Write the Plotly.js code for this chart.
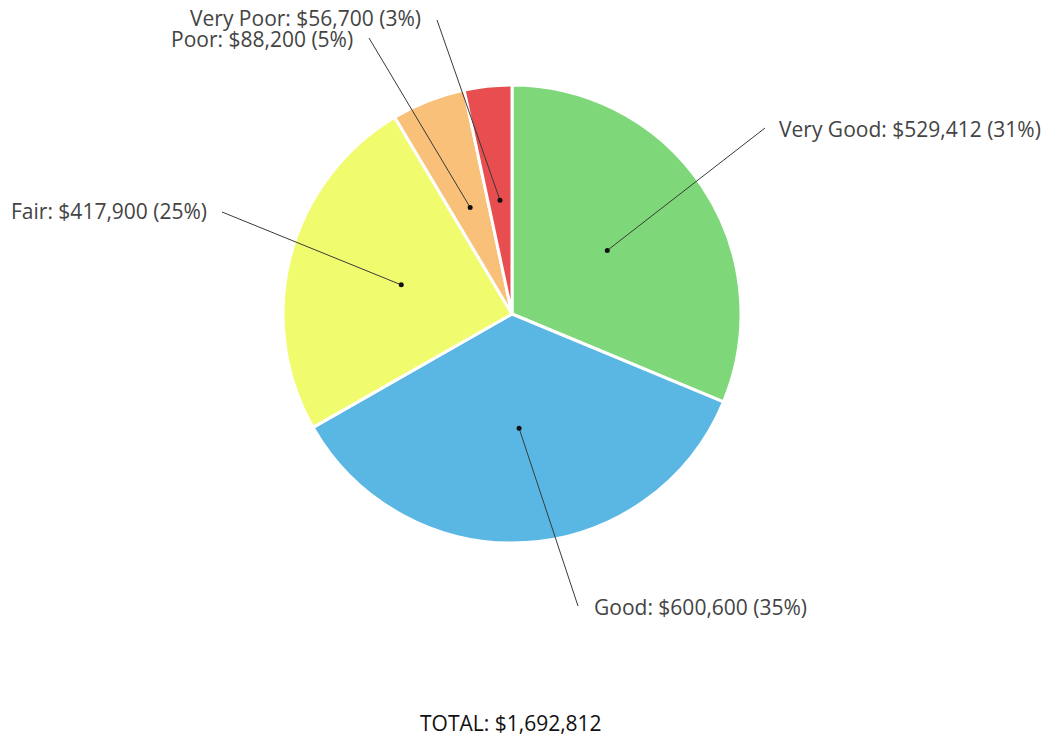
<!DOCTYPE html>
<html>
<head>
<meta charset="utf-8">
<script src="https://cdn.plot.ly/plotly-3.0.1.min.js"></script>
<style>html,body{margin:0;padding:0;background:#fff;}#chart{width:1049px;height:738px;}</style>
</head>
<body>
<div id="chart"></div>
<script>
// ---- data ----
const labels = ['Very Good', 'Good', 'Fair', 'Poor', 'Very Poor'];
const values = [529412, 600600, 417900, 88200, 56700];
const colors = ['#7ed87a', '#5ab7e3', '#f1fb6e', '#f8c078', '#e84d4f'];

// ---- layout geometry (pixels) ----
const W = 1049, H = 738;
const cx = 512, cy = 314, R = 229;
// label text anchor and leader-line start, per slice
const labelLayout = [
  {tx: 777, ty: 129, xa: 'left',   lx: 765, ly: 128},
  {tx: 592, ty: 607, xa: 'left',   lx: 578, ly: 606},
  {tx: 209, ty: 211, xa: 'right',  lx: 222, ly: 212},
  {tx: 262, ty: 39,  xa: 'center', lx: 369, ly: 38},
  {tx: 305, ty: 18,  xa: 'center', lx: 437, ly: 20}
];

const px = x => x / W;
const py = y => 1 - y / H;
const total = values.reduce((a, b) => a + b, 0);
const fmt = v => '$' + v.toLocaleString('en-US');

const annotations = [];
const shapes = [];
let cum = 0;
values.forEach((v, i) => {
  const frac = v / total;
  const mid = (cum + frac / 2) * 2 * Math.PI;
  cum += frac;
  const dx = cx + 0.5 * R * Math.sin(mid);
  const dy = cy - 0.5 * R * Math.cos(mid);
  const L = labelLayout[i];
  annotations.push({
    xref: 'paper', yref: 'paper', x: px(L.tx), y: py(L.ty),
    xanchor: L.xa, yanchor: 'middle', showarrow: false,
    text: labels[i] + ': ' + fmt(v) + ' (' + Math.round(frac * 100) + '%)',
    font: {family: 'Open Sans, sans-serif', size: 21, color: '#444'}
  });
  shapes.push({
    type: 'line', xref: 'paper', yref: 'paper', layer: 'above',
    x0: px(L.lx), y0: py(L.ly), x1: px(dx), y1: py(dy),
    line: {color: '#3a3a3a', width: 1}
  });
  shapes.push({
    type: 'circle', xref: 'paper', yref: 'paper', layer: 'above',
    xsizemode: 'pixel', ysizemode: 'pixel',
    xanchor: px(dx), yanchor: py(dy),
    x0: -2.5, x1: 2.5, y0: -2.5, y1: 2.5,
    fillcolor: '#111', line: {color: '#111', width: 0}
  });
});

annotations.push({
  xref: 'paper', yref: 'paper', x: px(511), y: py(723),
  xanchor: 'center', yanchor: 'middle', showarrow: false,
  text: 'TOTAL: ' + fmt(total),
  font: {family: 'Open Sans, sans-serif', size: 21, color: '#111'}
});

const trace = {
  type: 'pie',
  labels: labels,
  values: values,
  sort: false,
  direction: 'clockwise',
  rotation: 0,
  textinfo: 'none',
  marker: {colors: colors, line: {color: '#ffffff', width: 3}},
  domain: {x: [px(cx - R), px(cx + R)], y: [py(cy + R), py(cy - R)]},
  showlegend: false,
  hoverinfo: 'label+value+percent'
};

Plotly.newPlot('chart', [trace], {
  width: W, height: H,
  margin: {l: 0, r: 0, t: 0, b: 0},
  paper_bgcolor: '#fff',
  showlegend: false,
  annotations: annotations,
  shapes: shapes
}, {displayModeBar: false, staticPlot: true});
</script>
</body>
</html>
